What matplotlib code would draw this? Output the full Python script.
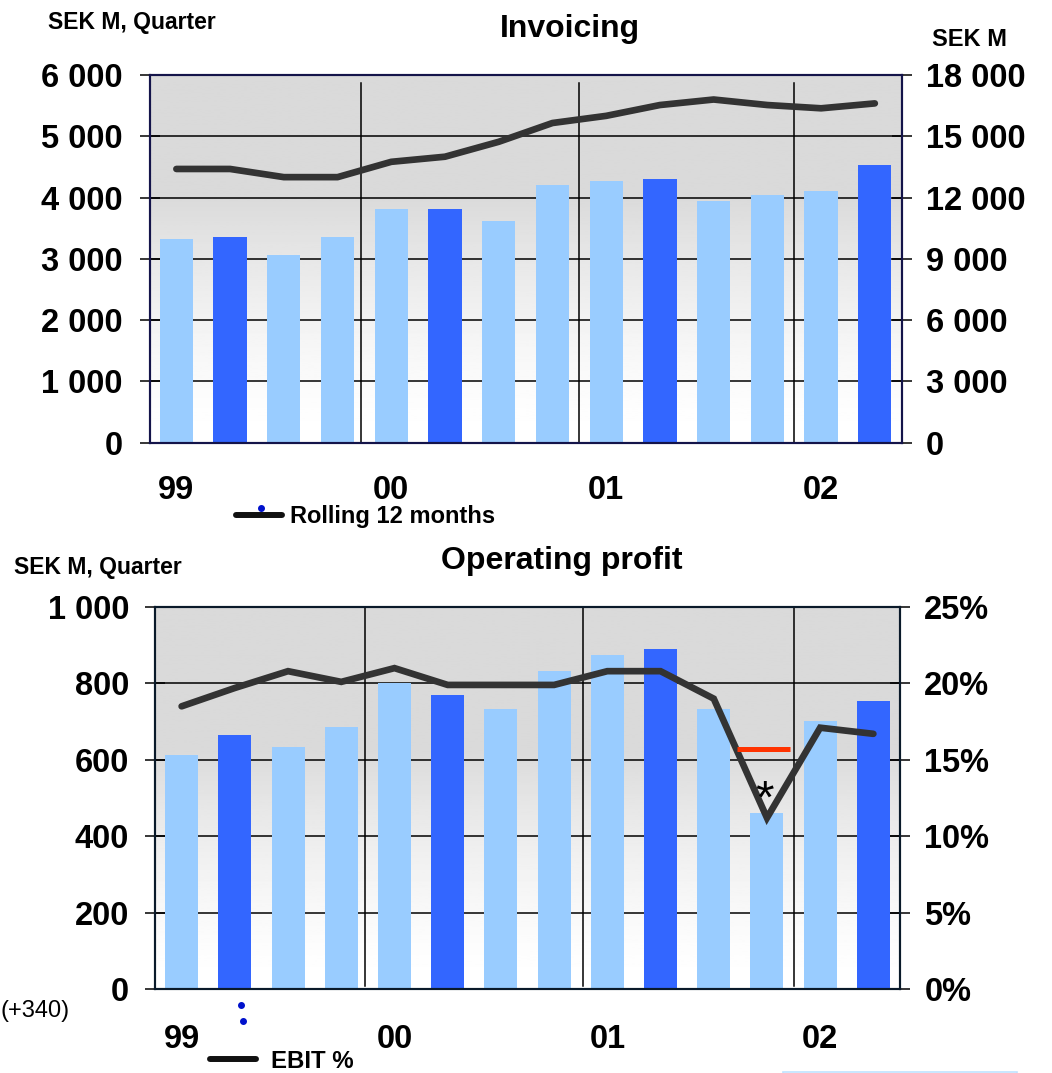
import matplotlib
matplotlib.use("Agg")
import matplotlib.pyplot as plt
import numpy as np
from matplotlib.ticker import FuncFormatter, MultipleLocator
from matplotlib.lines import Line2D
from matplotlib.patches import Rectangle

plt.rcParams['font.family'] = ['Liberation Sans', 'DejaVu Sans']
plt.rcParams['font.weight'] = 'bold'

# quarterly figures, Q1 1999 .. Q2 2002
years = ['99', '00', '01', '02']
year_pos = [0, 4, 8, 12]
second_quarters = [1, 5, 9, 13]

invoicing = [3320, 3360, 3060, 3360, 3810, 3810, 3620, 4200,
             4270, 4300, 3940, 4040, 4110, 4530]
rolling_12m = [13400, 13400, 13000, 13000, 13750, 14000, 14730, 15650,
               16000, 16530, 16800, 16530, 16370, 16610]

op_profit = [612, 665, 633, 686, 801, 770, 733, 832,
             874, 890, 733, 461, 702, 754]
ebit_pct = [18.5, 19.7, 20.8, 20.1, 21.0, 19.9, 19.9, 19.9,
            20.8, 20.8, 19.0, 11.2, 17.1, 16.7]
# Q4 01 margin excluding items affecting comparability
ebit_adj_q = 11
ebit_adj = 15.7

LIGHT = '#99ccff'
DARK = '#3366ff'
LINE = '#333333'

W, H = 1052, 1073
fig = plt.figure(figsize=(W / 100, H / 100), dpi=100)


def px_rect(l, t, r, b):
    return [l / W, 1 - b / H, (r - l) / W, (b - t) / H]


def gradient(ax, flat):
    t = np.linspace(0, 1, 256)
    s = np.clip((t - flat) / (1 - flat), 0, 1)
    g = 1 - 0.145 * (1 - s) ** 1.5
    ax.imshow(g[:, None], cmap='gray', vmin=0, vmax=1, aspect='auto',
              extent=(0, 1, 0, 1), transform=ax.transAxes, zorder=0)


def spaced(v, pos):
    return f"{int(v):,}".replace(",", " ")


def style(ax, color, pad):
    for s in ax.spines.values():
        s.set_color(color)
        s.set_linewidth(1.5)
    ax.tick_params(axis='y', direction='inout', length=15, width=1.1,
                   pad=pad, labelsize=23.5, colors='black')


idx = np.arange(len(invoicing))
colors = [DARK if i in second_quarters else LIGHT for i in idx]

# ---- Invoicing ----
ax1 = fig.add_axes(px_rect(149.5, 75, 901.7, 442.7))
gradient(ax1, 0.33)
ax1.bar(idx, invoicing, width=0.62, color=colors, zorder=1)
ax1.set_xlim(-0.5, 13.5)
ax1.set_ylim(0, 6000)
ax1.yaxis.set_major_locator(MultipleLocator(1000))
ax1.yaxis.set_major_formatter(FuncFormatter(spaced))
ax1.yaxis.grid(True, color='black', lw=1.1)
ax1.set_axisbelow(True)
ax1.set_xticks([])
for x in [3.44, 7.5, 11.5]:
    ax1.axvline(x, ymin=0, ymax=0.978, color='black', lw=1.1, zorder=0.6)
style(ax1, '#14144a', 12)
for x, lab in zip(year_pos, years):
    ax1.text(x, -0.153, lab, transform=ax1.get_xaxis_transform(),
             ha='center', va='baseline', fontsize=23.5)

ax1r = ax1.twinx()
ax1r.plot(idx, rolling_12m, color=LINE, lw=4.8, solid_capstyle='round',
          solid_joinstyle='round', zorder=3)
ax1r.set_ylim(0, 18000)
ax1r.yaxis.set_major_locator(MultipleLocator(3000))
ax1r.yaxis.set_major_formatter(FuncFormatter(spaced))
style(ax1r, '#14144a', 10)

fig.text(570 / W, 1 - 37.3 / H, 'Invoicing', ha='center', va='baseline', fontsize=23)
fig.text(48 / W, 1 - 29.3 / H, 'SEK M, Quarter', va='baseline', fontsize=16.5)
fig.text(931.7 / W, 1 - 46 / H, 'SEK M', va='baseline', fontsize=17)

h1 = Line2D([], [], color='#111111', lw=4.3, solid_capstyle='round')
ax1.legend([h1], ['Rolling 12 months'], loc='center left',
           bbox_to_anchor=(236 / W, 1 - 517 / H), bbox_transform=fig.transFigure,
           frameon=False, fontsize=17, handlelength=1.95, handletextpad=0.33,
           borderpad=0, borderaxespad=0)
fig.add_artist(Line2D([260.7 / W], [1 - 508 / H], transform=fig.transFigure,
                      marker='o', ms=4, color='#0011cc', ls='none'))

# ---- Operating profit ----
ax2 = fig.add_axes(px_rect(155, 607, 900, 989))
gradient(ax2, 0.37)
ax2.bar(idx, op_profit, width=0.62, color=colors, zorder=1)
ax2.set_xlim(-0.5, 13.5)
ax2.set_ylim(0, 1000)
ax2.yaxis.set_major_locator(MultipleLocator(200))
ax2.yaxis.set_major_formatter(FuncFormatter(spaced))
ax2.yaxis.grid(True, color='black', lw=1.1)
ax2.set_axisbelow(True)
ax2.set_xticks([])
for x in [3.44, 7.55, 11.5]:
    ax2.axvline(x, ymin=0.008, ymax=0.997, color='black', lw=1.1, zorder=0.6)
style(ax2, '#0a1a2a', 11)
for x, lab in zip(year_pos, years):
    ax2.text(x, -0.154, lab, transform=ax2.get_xaxis_transform(),
             ha='center', va='baseline', fontsize=23.5)

ax2r = ax2.twinx()
ax2r.plot(idx, ebit_pct, color=LINE, lw=4.8, solid_capstyle='round',
          solid_joinstyle='miter', zorder=3)
ax2r.hlines(ebit_adj, ebit_adj_q - 0.56, ebit_adj_q + 0.44, color='#ff3300',
            lw=3.6, zorder=4)
ax2r.set_ylim(0, 25)
ax2r.yaxis.set_major_locator(MultipleLocator(5))
ax2r.yaxis.set_major_formatter(FuncFormatter(lambda v, p: f"{int(v)}%"))
style(ax2r, '#0a1a2a', 10)
ax2r.text(ebit_adj_q - 0.04, op_profit[ebit_adj_q], '*', transform=ax2.transData,
          ha='center', va='baseline', fontsize=34, fontweight='normal', zorder=5)

fig.text(562 / W, 1 - 569.5 / H, 'Operating profit', ha='center', va='baseline', fontsize=23)
fig.text(14 / W, 1 - 574.3 / H, 'SEK M, Quarter', va='baseline', fontsize=16.5)
fig.text(1 / W, 1 - 1017.3 / H, '(+340)', va='baseline', fontsize=17, fontweight='normal')

h2 = Line2D([], [], color='#111111', lw=4.3, solid_capstyle='round')
ax2.legend([h2], ['EBIT %'], loc='center left',
           bbox_to_anchor=(210 / W, 1 - 1061 / H), bbox_transform=fig.transFigure,
           frameon=False, fontsize=17.3, handlelength=1.92, handletextpad=0.6,
           borderpad=0, borderaxespad=0)
for dx, dy in [(240.7, 1005), (242.7, 1020.7)]:
    fig.add_artist(Line2D([dx / W], [1 - dy / H], transform=fig.transFigure,
                          marker='o', ms=4, color='#0011cc', ls='none'))

fig.add_artist(Rectangle((783 / W, -0.01), 234 / W, 0.01 + 1.5 / H,
                         transform=fig.transFigure, fill=False,
                         edgecolor='#bfe3ff', lw=1.2))

fig.savefig('out.png', dpi=100)
